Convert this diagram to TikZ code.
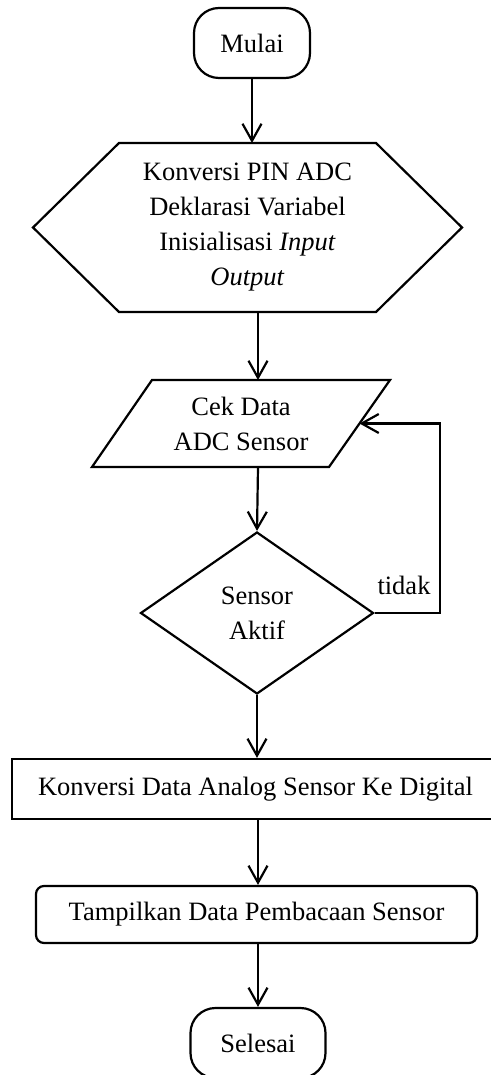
\documentclass[tikz,border=0pt]{standalone}
\usepackage{fontspec}
\setmainfont{Liberation Serif}
\usetikzlibrary{arrows.meta,shapes.geometric,calc}
\begin{document}
\begin{tikzpicture}[x=1pt,y=-1pt,line width=2.2pt,
  font=\fontsize{26.5}{35}\selectfont,
  flow/.style={-{Straight Barb[length=17pt,width=19pt,line width=2.2pt]}},
  terminal/.style={draw,rounded corners=25pt,inner sep=0pt,minimum height=70pt},
  frame/.style={inner sep=0pt,outer sep=0pt,align=center},
  process/.style={draw,inner sep=0pt}]
\useasboundingbox (0,0) rectangle (490,1075);

% start
\node[terminal,minimum width=116pt] (mulai) at (252,43) {Mulai};

% preparation (hexagon)
\node[frame,minimum width=429pt,minimum height=169pt] (init) at (247.5,227.5)
  {Konversi PIN ADC\\Deklarasi Variabel\\Inisialisasi \textit{Input}\\\textit{Output}};
\draw (init.west) -- ([xshift=86pt]init.north west) -- ([xshift=-86pt]init.north east)
  -- (init.east) -- ([xshift=-86pt]init.south east) -- ([xshift=86pt]init.south west) -- cycle;

% input (parallelogram)
\node[frame,minimum width=298pt,minimum height=87pt] (cek) at (241,423.5)
  {Cek Data\\ADC Sensor};
\draw ([xshift=60pt]cek.north west) -- (cek.north east)
  -- ([xshift=-61pt]cek.south east) -- (cek.south west) -- cycle;
\coordinate (cekin) at ($(cek.north east)!0.5!([xshift=-61pt]cek.south east)$);

% decision
\node[draw,diamond,inner sep=0pt,minimum width=233pt,minimum height=162pt,align=center]
  (aktif) at (257,613) {Sensor\\Aktif};
\node (tidak) at (404,585) {tidak};

% processes
\node[process,minimum width=487pt,minimum height=60pt] (konv) at (255.5,789)
  {Konversi Data Analog Sensor Ke Digital};
\node[process,rounded corners=8pt,minimum width=441pt,minimum height=57pt] (tampil) at (256.5,914.5)
  {Tampilkan Data Pembacaan Sensor};

% end
\node[terminal,minimum width=135pt] (selesai) at (258,1043) {Selesai};

% connectors
\coordinate (axis) at (258,0);
\draw[flow] (mulai.south) -- (mulai.south |- init.north);
\draw[flow] (init.south -| axis) -- (cek.north -| axis);
\draw[flow] (cek.south -| axis) -- (aktif.north);
\draw[flow] (aktif.east) -- ++(65,0) |- (cekin);
\draw[flow] (aktif.south) -- (konv.north -| aktif.south);
\draw[flow] (konv.south -| axis) -- (tampil.north -| axis);
\draw[flow] (tampil.south -| selesai.north) -- (selesai.north);
\end{tikzpicture}
\end{document}
